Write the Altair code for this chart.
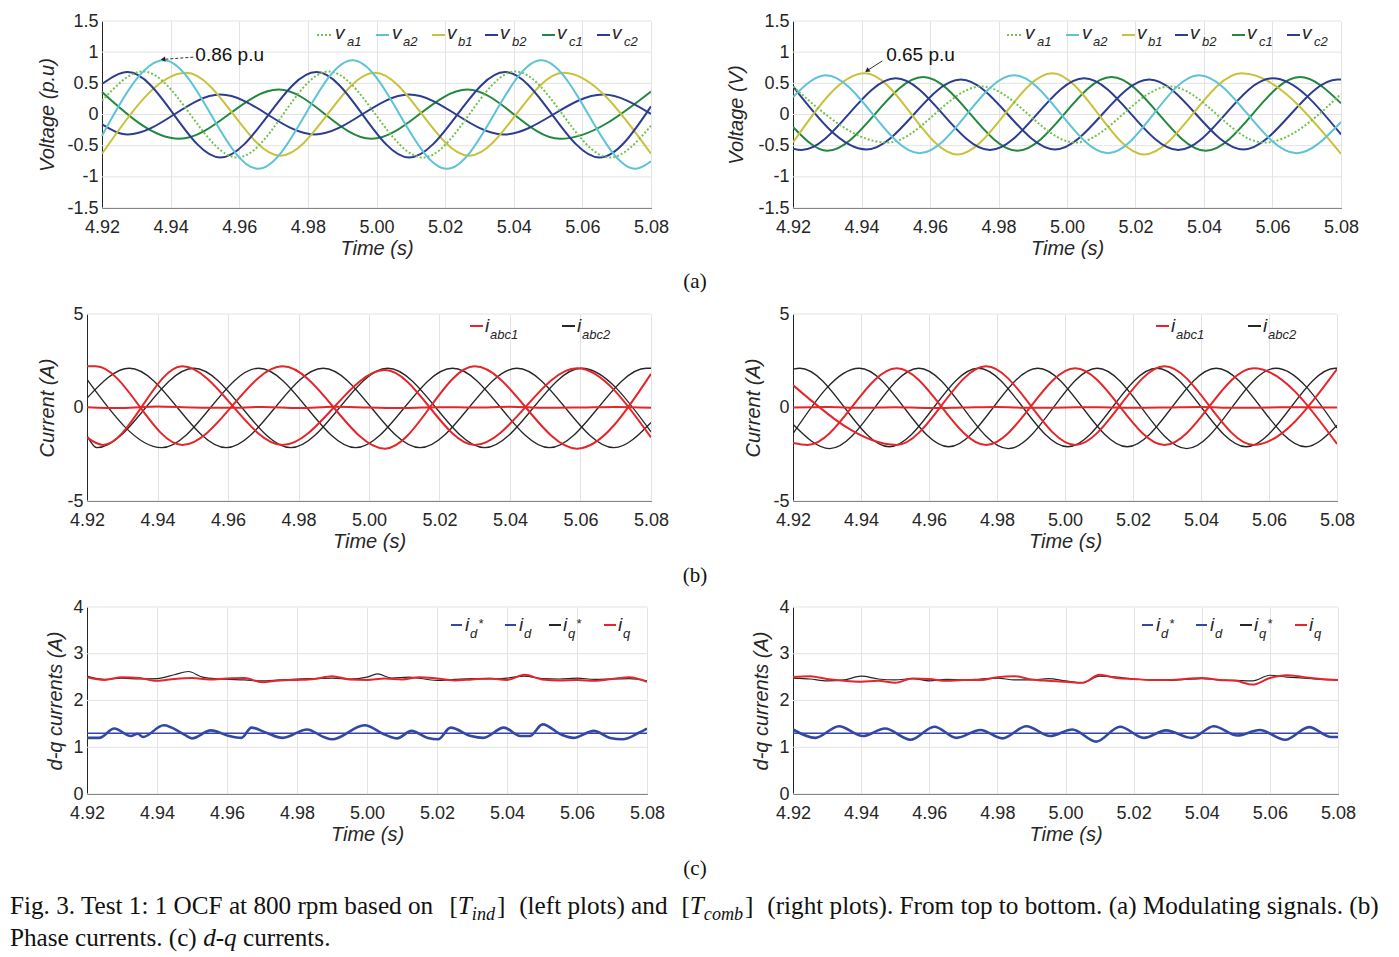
import altair as alt
import pandas as pd

# ---------------- shared axis values ----------------
T0, T1 = 4.92, 5.08
X_TICKS = [4.92, 4.94, 4.96, 4.98, 5.00, 5.02, 5.04, 5.06, 5.08]
YA_TICKS = [-1.5, -1, -0.5, 0, 0.5, 1, 1.5]
YB_TICKS = [-5, 0, 5]
YC_TICKS = [0, 1, 2, 3, 4]

# ---------------- (a) left : modulating signals, T_ind ----------------
AL_VA1_T = [4.92, 4.932, 4.9595, 4.986, 5.0135, 5.0405, 5.068, 5.08]
AL_VA1_V = [0.22, 0.69, -0.69, 0.69, -0.69, 0.69, -0.69, -0.18]
AL_VA2_T = [4.92, 4.938, 4.9655, 4.993, 5.0205, 5.048, 5.0755, 5.08]
AL_VA2_V = [-0.34, 0.87, -0.87, 0.87, -0.87, 0.87, -0.87, -0.75]
AL_VB1_T = [4.92, 4.9445, 4.972, 4.9995, 5.027, 5.0545, 5.08]
AL_VB1_V = [-0.63, 0.67, -0.66, 0.67, -0.66, 0.67, -0.63]
AL_VB2_T = [4.92, 4.9275, 4.9545, 4.9825, 5.0095, 5.0375, 5.065, 5.08]
AL_VB2_V = [0.49, 0.68, -0.69, 0.68, -0.69, 0.68, -0.69, 0.13]
AL_VC1_T = [4.92, 4.9425, 4.9715, 4.9985, 5.0265, 5.0535, 5.08]
AL_VC1_V = [0.36, -0.39, 0.40, -0.39, 0.40, -0.39, 0.37]
AL_VC2_T = [4.92, 4.9275, 4.9545, 4.982, 5.0095, 5.037, 5.066, 5.08]
AL_VC2_V = [-0.16, -0.32, 0.32, -0.32, 0.32, -0.32, 0.32, 0.01]

# ---------------- (a) right : modulating signals, T_comb ----------------
AR_VA1_T = [4.92, 4.9475, 4.975, 5.0025, 5.030, 5.0575, 5.08]
AR_VA1_V = [0.45, -0.45, 0.45, -0.45, 0.45, -0.45, 0.33]
AR_VA2_T = [4.92, 4.9296, 4.957, 4.9845, 5.012, 5.0385, 5.067, 5.08]
AR_VA2_V = [0.28, 0.63, -0.62, 0.63, -0.62, 0.63, -0.62, -0.12]
AR_VB1_T = [4.92, 4.941, 4.968, 4.9957, 5.0225, 5.051, 5.08]
AR_VB1_V = [-0.45, 0.66, -0.64, 0.66, -0.64, 0.66, -0.63]
AR_VB2_T = [4.92, 4.9225, 4.950, 4.9775, 5.005, 5.0325, 5.060, 5.08]
AR_VB2_V = [-0.55, -0.57, 0.58, -0.57, 0.58, -0.57, 0.58, -0.32]
AR_VC1_T = [4.92, 4.930, 4.958, 4.9855, 5.013, 5.0405, 5.068, 5.08]
AR_VC1_V = [-0.20, -0.58, 0.60, -0.58, 0.60, -0.58, 0.60, 0.18]
AR_VC2_T = [4.92, 4.9415, 4.969, 4.9965, 5.024, 5.0515, 5.079, 5.08]
AR_VC2_V = [0.45, -0.56, 0.56, -0.56, 0.56, -0.56, 0.56, 0.56]

# ---------------- (b) left : phase currents, T_ind ----------------
BL_R1_T = [4.92, 4.9225, 4.947, 4.9755, 5.0045, 5.030, 5.059, 5.08]
BL_R1_V = [2.2, 2.2, -2.0, 2.2, -2.2, 2.2, -2.2, 1.8]
BL_R2_T = [4.92, 4.9245, 4.947, 4.9755, 5.0045, 5.030, 5.059, 5.08]
BL_R2_V = [-1.6, -2.0, 2.2, -2.0, 2.0, -2.0, 2.1, -1.6]
BL_R0_T = [4.92, 4.93, 4.94, 4.95, 4.96, 4.97, 4.98, 4.99, 5.00, 5.01, 5.02, 5.03, 5.04, 5.05, 5.06, 5.07, 5.08]
BL_R0_V = [0.02, -0.03, 0.05, 0.0, -0.02, 0.03, -0.03, 0.04, 0.0, -0.03, 0.02, 0.0, 0.04, -0.02, 0.0, 0.03, -0.02]
BL_K1_T = [4.92, 4.932, 4.9595, 4.987, 5.0145, 5.042, 5.0695, 5.08]
BL_K1_V = [0.5, 2.1, -2.15, 2.1, -2.15, 2.1, -2.15, -0.8]
BL_K2_T = [4.92, 4.9228, 4.9503, 4.9778, 5.0053, 5.0328, 5.0603, 5.08]
BL_K2_V = [-1.5, -2.15, 2.1, -2.15, 2.1, -2.15, 2.1, -1.3]
BL_K3_T = [4.92, 4.9412, 4.9687, 4.9962, 5.0237, 5.0512, 5.0787, 5.08]
BL_K3_V = [1.5, -2.15, 2.1, -2.15, 2.1, -2.15, 2.1, 2.1]

# ---------------- (b) right : phase currents, T_comb ----------------
BR_R1_T = [4.92, 4.9243, 4.9505, 4.9768, 5.003, 5.0293, 5.0555, 5.08]
BR_R1_V = [-1.9, -2.0, 2.1, -2.0, 2.1, -2.0, 2.1, -1.95]
BR_R2_T = [4.92, 4.9505, 4.9768, 5.003, 5.0293, 5.0555, 5.08]
BR_R2_V = [1.2, -2.0, 2.2, -2.0, 2.2, -2.0, 2.05]
BR_R0_T = [4.92, 4.93, 4.94, 4.95, 4.96, 4.97, 4.98, 4.99, 5.00, 5.01, 5.02, 5.03, 5.04, 5.05, 5.06, 5.07, 5.08]
BR_R0_V = [0.0, 0.03, -0.02, 0.02, -0.03, 0.0, 0.03, -0.02, 0.0, 0.02, -0.02, 0.0, 0.03, -0.02, 0.0, 0.02, 0.0]
BR_K1_T = [4.92, 4.922, 4.9483, 4.9745, 5.0008, 5.027, 5.0533, 5.0795, 5.08]
BR_K1_V = [2.05, 2.1, -2.1, 2.1, -2.1, 2.1, -2.1, 2.1, 2.1]
BR_K2_T = [4.92, 4.9395, 4.9658, 4.992, 5.0183, 5.0445, 5.0708, 5.08]
BR_K2_V = [-1.4, 2.1, -2.1, 2.1, -2.1, 2.1, -2.1, -0.95]
BR_K3_T = [4.92, 4.9308, 4.957, 4.9833, 5.0095, 5.0358, 5.062, 5.08]
BR_K3_V = [-0.9, -2.2, 2.1, -2.2, 2.1, -2.2, 2.1, -1.1]

# ---------------- (c) left : d-q currents, T_ind ----------------
CL_IDREF_T = [4.92, 5.08]
CL_IDREF_V = [1.3, 1.3]
CL_ID_T = [4.92, 4.9235, 4.9278, 4.9325, 4.9345, 4.936, 4.9419, 4.9478, 4.950, 4.9554, 4.9606, 4.9641,
           4.967, 4.9712, 4.9759, 4.9829, 4.9876, 4.990, 4.9993, 5.0051, 5.0086, 5.0127, 5.0174, 5.0203,
           5.0239, 5.0297, 5.0332, 5.0391, 5.0438, 5.0465, 5.0502, 5.0555, 5.059, 5.0648, 5.0695, 5.073,
           5.0777, 5.08]
CL_ID_V = [1.2, 1.2, 1.4, 1.24, 1.29, 1.22, 1.47, 1.27, 1.19, 1.36, 1.24, 1.2,
           1.42, 1.31, 1.2, 1.38, 1.22, 1.17, 1.47, 1.27, 1.19, 1.35, 1.2, 1.17,
           1.42, 1.24, 1.2, 1.42, 1.24, 1.24, 1.49, 1.27, 1.2, 1.35, 1.2, 1.17,
           1.31, 1.4]
CL_IQREF_T = [4.92, 4.925, 4.93, 4.935, 4.94, 4.945, 4.949, 4.953, 4.958, 4.965, 4.97, 4.975, 4.98,
              4.985, 4.99, 4.995, 5.0, 5.003, 5.007, 5.012, 5.02, 5.025, 5.03, 5.035, 5.04, 5.045,
              5.05, 5.055, 5.06, 5.065, 5.07, 5.075, 5.08]
CL_IQREF_V = [2.52, 2.45, 2.48, 2.46, 2.47, 2.55, 2.62, 2.5, 2.46, 2.44, 2.42, 2.44, 2.46,
              2.47, 2.48, 2.46, 2.5, 2.57, 2.48, 2.5, 2.43, 2.45, 2.47, 2.46, 2.48, 2.52,
              2.47, 2.46, 2.48, 2.45, 2.46, 2.47, 2.42]
CL_IQ_T = [4.92, 4.925, 4.93, 4.935, 4.94, 4.945, 4.95, 4.955, 4.96, 4.965, 4.97, 4.975, 4.98, 4.985,
           4.99, 4.995, 5.0, 5.005, 5.01, 5.015, 5.02, 5.025, 5.03, 5.035, 5.04, 5.045, 5.05, 5.055,
           5.06, 5.065, 5.07, 5.075, 5.08]
CL_IQ_V = [2.5, 2.44, 2.5, 2.48, 2.42, 2.46, 2.48, 2.45, 2.47, 2.48, 2.39, 2.43, 2.44, 2.46,
           2.52, 2.45, 2.44, 2.47, 2.45, 2.5, 2.47, 2.43, 2.45, 2.47, 2.44, 2.55, 2.45, 2.43,
           2.44, 2.42, 2.46, 2.5, 2.4]

# ---------------- (c) right : d-q currents, T_comb ----------------
CR_IDREF_T = [4.92, 5.08]
CR_IDREF_V = [1.3, 1.3]
CR_ID_T = [4.92, 4.9265, 4.9335, 4.9405, 4.947, 4.9545, 4.9615, 4.968, 4.975, 4.9815, 4.9885,
           4.9955, 5.002, 5.009, 5.016, 5.023, 5.0295, 5.037, 5.0435, 5.0505, 5.057, 5.0645,
           5.0715, 5.078, 5.08]
CR_ID_V = [1.38, 1.2, 1.45, 1.24, 1.4, 1.16, 1.44, 1.2, 1.37, 1.19, 1.45, 1.24, 1.38,
           1.12, 1.44, 1.2, 1.36, 1.2, 1.45, 1.25, 1.37, 1.16, 1.43, 1.22, 1.22]
CR_IQREF_T = [4.92, 4.925, 4.93, 4.935, 4.94, 4.945, 4.95, 4.955, 4.96, 4.965, 4.97, 4.975, 4.98,
              4.985, 4.99, 4.995, 5.0, 5.005, 5.01, 5.015, 5.02, 5.025, 5.03, 5.035, 5.04, 5.045,
              5.05, 5.055, 5.06, 5.065, 5.07, 5.075, 5.08]
CR_IQREF_V = [2.48, 2.46, 2.42, 2.44, 2.52, 2.46, 2.44, 2.47, 2.42, 2.45, 2.44, 2.46, 2.48,
              2.44, 2.44, 2.47, 2.42, 2.38, 2.52, 2.5, 2.46, 2.44, 2.43, 2.45, 2.47, 2.44,
              2.43, 2.42, 2.54, 2.5, 2.48, 2.45, 2.44]
CR_IQ_T = [4.92, 4.925, 4.93, 4.935, 4.94, 4.945, 4.95, 4.955, 4.96, 4.965, 4.97, 4.975, 4.98,
           4.985, 4.99, 4.995, 5.0, 5.005, 5.01, 5.015, 5.02, 5.025, 5.03, 5.035, 5.04, 5.045,
           5.05, 5.055, 5.06, 5.065, 5.07, 5.075, 5.08]
CR_IQ_V = [2.5, 2.52, 2.46, 2.42, 2.4, 2.42, 2.38, 2.47, 2.46, 2.42, 2.44, 2.44, 2.5,
           2.52, 2.45, 2.42, 2.4, 2.38, 2.55, 2.48, 2.46, 2.44, 2.44, 2.46, 2.48, 2.44,
           2.42, 2.34, 2.48, 2.54, 2.5, 2.46, 2.44]

# ---------------- styles ----------------
C_VA1, C_VA2, C_VB1 = "#74c24e", "#5ec3d6", "#c8c23c"
C_BLUE, C_GREEN = "#2c3d91", "#22883d"
C_RED, C_BLACK = "#e4262b", "#262626"
C_ID = "#3348a3"
TXT = "#262626"
GRID = "#e3e3e3"
SANS = "Liberation Sans"
SERIF = "Liberation Serif"
TICK_FS = 18
TITLE_FS = 20

H = 187
ONE = pd.DataFrame({"k": [0]})


def vtext(x, y, s, font=SANS, size=18, style="normal", align="left", baseline="alphabetic", color="#111111"):
    return alt.Chart(ONE).mark_text(align=align, baseline=baseline, font=font, fontSize=size,
                                    fontStyle=style, color=color).encode(
        x=alt.value(x), y=alt.value(y), text=alt.value(s))


def vseg(x1, x2, y, color, dotted):
    kw = dict(color=color, strokeWidth=2)
    if dotted:
        kw["strokeDash"] = [2, 2]
    return alt.Chart(ONE).mark_rule(**kw).encode(x=alt.value(x1), x2=alt.value(x2), y=alt.value(y))


def panel(series, ydom, yticks, ytitle, width, x0, title_x, legend, extra=None, deco=None):
    xs = alt.Scale(domain=[T0, T1], range=[x0, width], nice=False, zero=False)
    ys = alt.Scale(domain=ydom, nice=False, zero=False)
    xaxis = alt.Axis(values=X_TICKS, format=".2f", grid=True, gridColor=GRID, gridWidth=1,
                     domainColor=TXT, domainWidth=1, tickSize=0, labelPadding=10,
                     labelFont=SANS, labelFontSize=TICK_FS, labelColor=TXT, labelFlush=False,
                     title="Time (s)", titleFont=SANS, titleFontSize=TITLE_FS, titleFontStyle="italic",
                     titleFontWeight="normal", titleColor=TXT, titleY=40, titleBaseline="middle")
    yaxis = alt.Axis(values=yticks, grid=False, domainColor=TXT, domainWidth=1, tickSize=0,
                     labelPadding=4, labelFont=SANS, labelFontSize=TICK_FS, labelColor=TXT,
                     labelFlush=False, offset=-x0, labelExpr="'' + datum.value",
                     title=ytitle, titleFont=SANS, titleFontSize=TITLE_FS, titleFontStyle="italic",
                     titleFontWeight="normal", titleColor=TXT, titleX=title_x, titleY=H / 2,
                     titleAngle=270, titleBaseline="middle", titleAlign="center")
    gdf = pd.DataFrame({"v": yticks, "t": T0, "b": T1})
    layers = [alt.Chart(gdf).mark_rule(color=GRID, strokeWidth=1).encode(
        x=alt.X("t:Q", scale=xs, axis=xaxis), x2="b:Q",
        y=alt.Y("v:Q", scale=ys, axis=yaxis))]
    for ts, vs, color, sw, dash in series:
        df = pd.DataFrame({"t": ts, "v": vs})
        kw = dict(color=color, strokeWidth=sw, interpolate="monotone", clip=True)
        if dash:
            kw["strokeDash"] = dash
        layers.append(alt.Chart(df).mark_line(**kw).encode(
            x=alt.X("t:Q", scale=xs, axis=xaxis),
            y=alt.Y("v:Q", scale=ys, axis=yaxis),
            order="t:Q"))
    if extra:
        for e in extra:
            layers += e(xs, ys, xaxis, yaxis)
    layers += legend_layers(legend, width)
    if deco:
        layers += deco
    return alt.layer(*layers).properties(width=width, height=H)


def legend_layers(spec, width):
    items, ref, ly, my, sy, py, mfs, sfs = spec
    out = []
    for (x1, x2, color, dotted, mx, main, subx, sub, supx, sup) in items:
        out.append(vseg(width + (x1 - ref), width + (x2 - ref), ly, color, dotted))
        out.append(vtext(width + (mx - ref), my, main, size=mfs, style="italic", color=TXT))
        out.append(vtext(width + (subx - ref), sy, sub, size=sfs, style="italic", color=TXT))
        if sup:
            out.append(vtext(width + (supx - ref), py, sup, size=sfs, style="italic", color=TXT))
    return out


def arrow(t0, v0, t1, v1, angle, dashed):
    def make(xs, ys, xa, ya):
        df = pd.DataFrame({"t": [t0], "v": [v0], "t2": [t1], "v2": [v1]})
        kw = dict(color="#333333", strokeWidth=1)
        if dashed:
            kw["strokeDash"] = [3, 2]
        line = alt.Chart(df).mark_rule(**kw).encode(
            x=alt.X("t:Q", scale=xs, axis=xa), y=alt.Y("v:Q", scale=ys, axis=ya),
            x2="t2:Q", y2="v2:Q")
        head = alt.Chart(df).mark_point(shape="triangle", filled=True, size=28, color="#222222",
                                        angle=angle, opacity=1).encode(
            x=alt.X("t2:Q", scale=xs, axis=xa), y=alt.Y("v2:Q", scale=ys, axis=ya))
        return [line, head]
    return make


def note(t, v, txt):
    def make(xs, ys, xa, ya):
        df = pd.DataFrame({"t": [t], "v": [v], "s": [txt]})
        return [alt.Chart(df).mark_text(align="left", baseline="middle", font=SANS, fontSize=19,
                                        color="#111111").encode(
            x=alt.X("t:Q", scale=xs, axis=xa), y=alt.Y("v:Q", scale=ys, axis=ya), text="s:N")]
    return make


# ---------------- legends (original pixel layout, measured against the plot right edge) ----------------
LEG_A = ([(317, 333, C_VA1, True, 335, "v", 347, "a1", 0, ""),
          (376, 389, C_VA2, False, 392, "v", 403, "a2", 0, ""),
          (432, 445, C_VB1, False, 447, "v", 458, "b1", 0, ""),
          (485, 498, C_BLUE, False, 500, "v", 512, "b2", 0, ""),
          (542, 555, C_GREEN, False, 557, "v", 569, "c1", 0, ""),
          (597, 610, C_BLUE, False, 612, "v", 624, "c2", 0, "")],
         651, 14, 18, 25, 0, 19, 13)
LEG_B = ([(470, 483, C_RED, False, 485, "i", 490, "abc1", 0, ""),
          (562, 575, C_BLACK, False, 577, "i", 582, "abc2", 0, "")],
         651, 12, 18, 25, 0, 19, 13)
LEG_C = ([(451, 462, C_ID, False, 465, "i", 470, "d", 478, "*"),
          (505, 516, C_ID, False, 519, "i", 524, "d", 0, ""),
          (549, 561, C_BLACK, False, 563, "i", 568, "q", 576, "*"),
          (604, 616, C_RED, False, 618, "i", 623, "q", 0, "")],
         647, 18, 24, 31, 21, 19, 13)

# ---------------- figure caption (Times metrics for segment placement) ----------------
ROMAN_W = {" ": 250, "(": 333, ")": 333, ".": 250, ",": 250, ":": 278, "-": 333, "[": 333, "]": 333,
           "A": 722, "C": 667, "F": 556, "O": 722, "P": 556, "M": 889, "T": 611}
for ch in "0123456789":
    ROMAN_W[ch] = 500
ROMAN_W.update(dict(zip("abcdefghijklmnopqrstuvwxyz",
                        [444, 500, 444, 500, 444, 333, 500, 500, 278, 278, 500, 278, 778, 500, 500, 500,
                         500, 333, 389, 278, 500, 500, 722, 500, 500, 444])))
ITAL_W = {"T": 556, "i": 278, "n": 500, "d": 500, "c": 444, "o": 500, "m": 722, "b": 500, "q": 500, "-": 333}


def tw(s, fs, table):
    return sum(table.get(ch, 500) for ch in s) * fs / 1000.0


CAP_LINE1 = [("Fig. 3. Test 1: 1 OCF at 800 rpm based on", "r", 1), ("[", "r", 1), ("T", "i", 1),
             ("ind", "i", 0.72), ("]", "r", 1), ("(left plots) and", "r", 1), ("[", "r", 1), ("T", "i", 1),
             ("comb", "i", 0.72), ("]", "r", 1),
             ("(right plots). From top to bottom. (a) Modulating signals. (b)", "r", 1)]
CAP_GAPS1 = [2.2, 0, 0, 0.3, 2.2, 2.2, 0, 0, 0.3, 2.2, 0]
CAP_LINE2 = [("Phase currents. (c)", "r", 1), ("d-q", "i", 1), ("currents.", "r", 1)]
CAP_GAPS2 = [1, 1, 0]
FS_CAP = 25.2


def caption_layers(x0, y1, y2, fs):
    out = []
    for segs, gaps, yb in ((CAP_LINE1, CAP_GAPS1, y1), (CAP_LINE2, CAP_GAPS2, y2)):
        x = x0
        for (s, kind, scale), g in zip(segs, gaps):
            f = fs * scale
            out.append(vtext(x, yb + (0 if scale == 1 else fs * 0.22), s, font=SERIF, size=f,
                             style="normal" if kind == "r" else "italic"))
            x += tw(s, f, ROMAN_W if kind == "r" else ITAL_W) + g * fs * 0.25
    return out


# ---------------- build panels ----------------
a_left = panel([(AL_VC1_T, AL_VC1_V, C_GREEN, 2, None), (AL_VC2_T, AL_VC2_V, C_BLUE, 2, None),
                (AL_VB1_T, AL_VB1_V, C_VB1, 2, None), (AL_VB2_T, AL_VB2_V, C_BLUE, 2, None),
                (AL_VA1_T, AL_VA1_V, C_VA1, 2, [2, 2]), (AL_VA2_T, AL_VA2_V, C_VA2, 2, None)],
               [-1.5, 1.5], YA_TICKS, "Voltage (p.u)", 564, 15, -55, LEG_A,
               [arrow(4.9466, 0.92, 4.9380, 0.885, 265, True), note(4.9472, 0.96, "0.86 p.u")],
               [vtext(608, 261, "(a)", font=SERIF, size=21, align="center", baseline="middle")])
a_right = panel([(AR_VC1_T, AR_VC1_V, C_GREEN, 2, None), (AR_VC2_T, AR_VC2_V, C_BLUE, 2, None),
                 (AR_VB1_T, AR_VB1_V, C_VB1, 2, None), (AR_VB2_T, AR_VB2_V, C_BLUE, 2, None),
                 (AR_VA1_T, AR_VA1_V, C_VA1, 2, [2, 2]), (AR_VA2_T, AR_VA2_V, C_VA2, 2, None)],
                [-1.5, 1.5], YA_TICKS, "Voltage (V)", 548, 0, -57, LEG_A,
                [arrow(4.9461, 0.86, 4.9418, 0.71, 236, False), note(4.9472, 0.96, "0.65 p.u")])
b_left = panel([(BL_K1_T, BL_K1_V, C_BLACK, 1.3, None), (BL_K2_T, BL_K2_V, C_BLACK, 1.3, None),
                (BL_K3_T, BL_K3_V, C_BLACK, 1.3, None), (BL_R0_T, BL_R0_V, C_RED, 2, None),
                (BL_R1_T, BL_R1_V, C_RED, 2, None), (BL_R2_T, BL_R2_V, C_RED, 2, None)],
               [-5, 5], YB_TICKS, "Current (A)", 564, 0, -40, LEG_B, None,
               [vtext(608, 262, "(b)", font=SERIF, size=21, align="center", baseline="middle")])
b_right = panel([(BR_K1_T, BR_K1_V, C_BLACK, 1.3, None), (BR_K2_T, BR_K2_V, C_BLACK, 1.3, None),
                 (BR_K3_T, BR_K3_V, C_BLACK, 1.3, None), (BR_R0_T, BR_R0_V, C_RED, 2, None),
                 (BR_R1_T, BR_R1_V, C_RED, 2, None), (BR_R2_T, BR_R2_V, C_RED, 2, None)],
                [-5, 5], YB_TICKS, "Current (A)", 544, 0, -40, LEG_B)
c_left = panel([(CL_IDREF_T, CL_IDREF_V, C_ID, 1.5, None), (CL_ID_T, CL_ID_V, C_ID, 2.6, None),
                (CL_IQREF_T, CL_IQREF_V, C_BLACK, 1.2, None), (CL_IQ_T, CL_IQ_V, C_RED, 2, None)],
               [0, 4], YC_TICKS, "d-q currents (A)", 560, 0, -32, LEG_C, None,
               [vtext(608, 262, "(c)", font=SERIF, size=21, align="center", baseline="middle")]
               + caption_layers(-77, 307, 339, FS_CAP))
c_right = panel([(CR_IDREF_T, CR_IDREF_V, C_ID, 1.5, None), (CR_ID_T, CR_ID_V, C_ID, 2.6, None),
                 (CR_IQREF_T, CR_IQREF_V, C_BLACK, 1.2, None), (CR_IQ_T, CR_IQ_V, C_RED, 2, None)],
                [0, 4], YC_TICKS, "d-q currents (A)", 545, 0, -32, LEG_C)

chart = alt.concat(a_left, a_right, b_left, b_right, c_left, c_right, columns=2,
                   spacing={"row": 106, "column": 142}, bounds="flush", align="none").properties(
    padding={"left": 2, "top": 4, "right": 2, "bottom": 2}, background="white"
).configure_view(stroke=None)

chart.save("out.html", embed_options={"renderer": "svg", "actions": False})
